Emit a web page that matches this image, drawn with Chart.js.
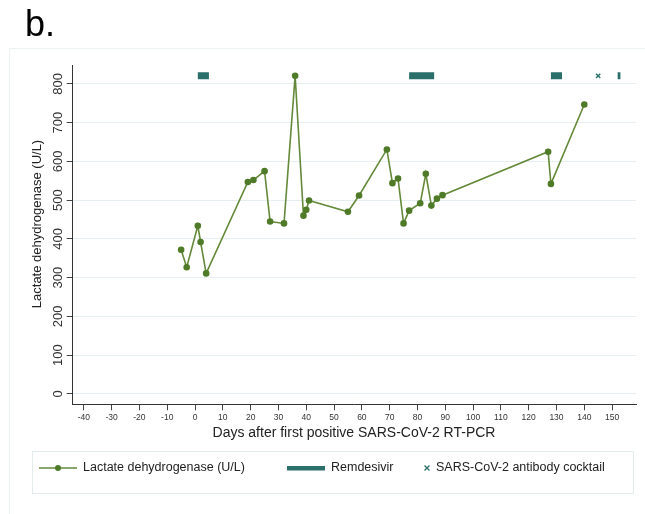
<!DOCTYPE html>
<html>
<head>
<meta charset="utf-8">
<script src="https://cdn.jsdelivr.net/npm/chart.js@4/dist/chart.umd.min.js"></script>
<style>
  html, body { margin: 0; padding: 0; background: #fff; }
  #wrap { width: 645px; height: 514px; position: relative; }
</style>
</head>
<body>
<div id="wrap"><canvas id="c" width="645" height="514"></canvas></div>
<script>
// Lactate dehydrogenase measurements (days after first positive RT-PCR, U/L)
const ldhDays   = [-5, -3, 1, 2, 4, 19, 21, 25, 27, 32, 36, 39, 40, 41, 55, 59, 69, 71, 73, 75, 77, 81, 83, 85, 87, 89, 127, 128, 140];
const ldhValues = [372, 327, 434, 392, 311, 547, 552, 575, 445, 440, 821, 460, 475, 499, 470, 512, 631, 544, 556, 440, 473, 492, 568, 486, 504, 513, 625, 542, 747];

// Remdesivir courses (start / end day), drawn along the top band
const remdesivirStart = [1, 77, 128, 152];
const remdesivirEnd   = [5, 86, 132, 153];
const treatmentLevel  = 821;

// Antibody cocktail administration day
const antibodyDays = [145];

// Axis ticks
const xTicks = [-40, -30, -20, -10, 0, 10, 20, 30, 40, 50, 60, 70, 80, 90, 100, 110, 120, 130, 140, 150];
const yTicks = [0, 100, 200, 300, 400, 500, 600, 700, 800];

const GREEN_LINE = '#64893a';
const GREEN_DOT = '#4f7a28';
const TEAL = '#2b6f6b';
const FONT = '"Liberation Sans", Arial, Helvetica, sans-serif';

const ldhData = ldhDays.map((d, i) => ({ x: d, y: ldhValues[i] }));
const remData = [];
remdesivirStart.forEach((s, i) => {
  remData.push({ x: s, y: treatmentLevel });
  remData.push({ x: remdesivirEnd[i], y: treatmentLevel });
  remData.push({ x: remdesivirEnd[i], y: null });
});
const abData = antibodyDays.map(d => ({ x: d, y: treatmentLevel }));

const decor = {
  id: 'decor',
  beforeDraw(chart) {
    const ctx = chart.ctx;
    ctx.save();
    ctx.fillStyle = '#fff';
    ctx.fillRect(0, 0, chart.width, chart.height);
    ctx.strokeStyle = '#edf2f2';
    ctx.lineWidth = 1;
    ctx.strokeRect(9.5, 48.5, 700, 600);
    ctx.restore();
  },
  afterDraw(chart) {
    const ctx = chart.ctx;
    ctx.save();
    // panel letter
    ctx.fillStyle = '#000';
    ctx.font = '36px ' + FONT;
    ctx.textBaseline = 'alphabetic';
    ctx.textAlign = 'left';
    ctx.fillText('b.', 25, 36);

    // axis titles
    ctx.fillStyle = '#222';
    ctx.font = '13px ' + FONT;
    ctx.textAlign = 'center';
    ctx.textBaseline = 'middle';
    ctx.save();
    ctx.translate(37, 224);
    ctx.rotate(-Math.PI / 2);
    ctx.fillText('Lactate dehydrogenase (U/L)', 0, 0);
    ctx.restore();
    ctx.font = '14px ' + FONT;
    ctx.fillText('Days after first positive SARS-CoV-2 RT-PCR', 354, 433);

    // legend
    ctx.strokeStyle = '#e3ecec';
    ctx.lineWidth = 1;
    ctx.strokeRect(32.5, 451.5, 601, 42);
    const ly = 468;
    const ds = chart.data.datasets;
    ctx.font = '12.5px ' + FONT;
    ctx.textAlign = 'left';
    ctx.textBaseline = 'middle';

    ctx.strokeStyle = GREEN_LINE;
    ctx.lineWidth = 1.5;
    ctx.beginPath(); ctx.moveTo(39, ly); ctx.lineTo(77, ly); ctx.stroke();
    ctx.fillStyle = GREEN_DOT;
    ctx.beginPath(); ctx.arc(58, ly, 3, 0, Math.PI * 2); ctx.fill();
    ctx.fillStyle = '#222';
    ctx.fillText(ds[0].label, 83, ly);

    ctx.fillStyle = TEAL;
    ctx.fillRect(287, ly - 2, 38, 4.5);
    ctx.fillStyle = '#222';
    ctx.fillText(ds[1].label, 331, ly);

    ctx.strokeStyle = TEAL;
    ctx.lineWidth = 1.3;
    ctx.beginPath();
    ctx.moveTo(424.5, ly - 2.5); ctx.lineTo(429.5, ly + 2.5);
    ctx.moveTo(429.5, ly - 2.5); ctx.lineTo(424.5, ly + 2.5);
    ctx.stroke();
    ctx.fillStyle = '#222';
    ctx.fillText(ds[2].label, 436, ly);
    ctx.restore();
  }
};

new Chart(document.getElementById('c'), {
  data: {
    datasets: [
      {
        type: 'line',
        label: 'Lactate dehydrogenase (U/L)',
        data: ldhData,
        borderColor: GREEN_LINE,
        borderWidth: 1.6,
        pointRadius: 3.3,
        pointBackgroundColor: GREEN_DOT,
        pointBorderColor: GREEN_DOT,
        pointBorderWidth: 0,
        tension: 0,
        order: 1
      },
      {
        type: 'line',
        label: 'Remdesivir',
        data: remData,
        borderColor: TEAL,
        borderWidth: 7,
        borderCapStyle: 'butt',
        pointRadius: 0,
        spanGaps: false,
        order: 2
      },
      {
        type: 'scatter',
        label: 'SARS-CoV-2 antibody cocktail',
        data: abData,
        pointStyle: 'crossRot',
        pointRadius: 3,
        borderColor: TEAL,
        borderWidth: 1.4,
        order: 0
      }
    ]
  },
  options: {
    responsive: false,
    animation: false,
    events: [],
    layout: { padding: { left: 0, right: 9, top: 65, bottom: 89.7 } },
    plugins: { legend: { display: false }, tooltip: { enabled: false }, title: { display: false } },
    scales: {
      x: {
        type: 'linear',
        position: 'bottom',
        min: -44,
        max: 158.6,
        afterBuildTicks(scale) { scale.ticks = xTicks.map(v => ({ value: v })); },
        afterFit(scale) { scale.height = 20; },
        grid: { drawOnChartArea: false, drawTicks: true, tickLength: 6, tickColor: '#444', tickWidth: 1 },
        border: { display: true, color: '#333', width: 1 },
        ticks: { autoSkip: false, maxRotation: 0, minRotation: 0, padding: 2, color: '#333', font: { family: FONT, size: 8.5 } }
      },
      y: {
        type: 'linear',
        position: 'left',
        min: -27,
        max: 849,
        afterBuildTicks(scale) { scale.ticks = yTicks.map(v => ({ value: v })); },
        afterFit(scale) { scale.width = 72.7; },
        grid: { color: '#e6eef1', lineWidth: 1, drawTicks: true, tickLength: 6, tickColor: '#444', tickWidth: 1 },
        border: { display: true, color: '#333', width: 1 },
        ticks: { autoSkip: false, minRotation: 90, maxRotation: 90, crossAlign: 'center', padding: -3, color: '#333', font: { family: FONT, size: 13 } }
      }
    }
  },
  plugins: [decor]
});
</script>
</body>
</html>
